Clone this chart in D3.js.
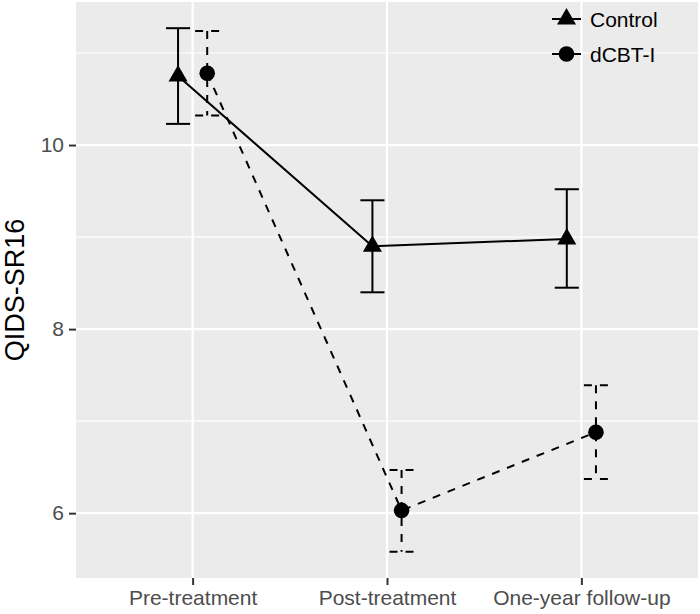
<!DOCTYPE html>
<html><head><meta charset="utf-8">
<script src="https://cdn.jsdelivr.net/npm/d3@7"></script>
<style>body{margin:0;background:#fff}svg{display:block;font-family:"Liberation Sans",Arial,sans-serif}</style>
</head><body>
<svg id="chart" width="700" height="614"></svg>
<script>
const categories = ["Pre-treatment", "Post-treatment", "One-year follow-up"];
const groups = ["Control", "dCBT-I"];
const controlMean = [10.75, 8.90, 8.98];
const controlLow  = [10.23, 8.40, 8.45];
const controlHigh = [11.27, 9.40, 9.52];
const dcbtMean = [10.78, 6.03, 6.88];
const dcbtLow  = [10.32, 5.58, 6.37];
const dcbtHigh = [11.24, 6.47, 7.39];
const yTicks = [6, 8, 10];
const yMinor = [7, 9, 11];
const yTitle = "QIDS-SR16";

const svg = d3.select("#chart");
const P = {left: 76, right: 698, top: 2, bottom: 578};

const allVals = controlLow.concat(controlHigh, dcbtLow, dcbtHigh);
const lo = d3.min(allVals), hi = d3.max(allVals), pad = (hi - lo) * 0.05;
const y = d3.scaleLinear().domain([lo - pad, hi + pad]).range([P.bottom, P.top]);
const x = d3.scalePoint().domain(categories).range([P.left, P.right]).padding(0.6);
const step = x.step();
const dodge = d3.scalePoint().domain(groups).range([-0.075 * step, 0.075 * step]);
const capHalf = 0.062 * step;

// panel
svg.append("rect").attr("x", P.left).attr("y", P.top).attr("width", P.right - P.left)
  .attr("height", P.bottom - P.top).attr("fill", "#EBEBEB");
const g = svg.append("g");
yMinor.forEach(v => g.append("line").attr("x1", P.left).attr("x2", P.right)
  .attr("y1", y(v)).attr("y2", y(v)).attr("stroke", "#fff").attr("stroke-width", 1.1));
yTicks.forEach(v => g.append("line").attr("x1", P.left).attr("x2", P.right)
  .attr("y1", y(v)).attr("y2", y(v)).attr("stroke", "#fff").attr("stroke-width", 2.2));
categories.forEach(c => g.append("line").attr("x1", x(c)).attr("x2", x(c))
  .attr("y1", P.top).attr("y2", P.bottom).attr("stroke", "#fff").attr("stroke-width", 2.2));

// axes
const yAxis = d3.axisLeft(y).tickValues(yTicks).tickSize(7).tickPadding(5).tickFormat(d3.format("d"));
const ya = svg.append("g").attr("transform", `translate(${P.left},0)`).call(yAxis);
const xAxis = d3.axisBottom(x).tickSize(7).tickPadding(5);
const xa = svg.append("g").attr("transform", `translate(0,${P.bottom})`).call(xAxis);
[ya, xa].forEach(a => {
  a.select(".domain").remove();
  a.selectAll(".tick line").attr("stroke", "#333").attr("stroke-width", 2);
  a.selectAll(".tick text").attr("fill", "#4D4D4D").style("font-size", "21px")
    .style("font-family", '"Liberation Sans",Arial,sans-serif');
});
svg.append("text").attr("transform", `translate(24,${(P.top + P.bottom) / 2}) rotate(-90)`)
  .attr("text-anchor", "middle").style("font-size", "27px").attr("fill", "#000").text(yTitle);

const series = [
  {name: groups[0], mean: controlMean, low: controlLow, high: controlHigh, dash: null, shape: "tri"},
  {name: groups[1], mean: dcbtMean, low: dcbtLow, high: dcbtHigh, dash: "8,8", shape: "circ"}
];
const tri = d3.symbol(d3.symbolTriangle, 157)();

series.forEach(s => {
  const px = i => x(categories[i]) + dodge(s.name);
  const sg = svg.append("g").attr("stroke", "#000").attr("stroke-width", 2).attr("fill", "none");
  // connecting line
  sg.append("path").attr("d", d3.line().x((d, i) => px(i)).y(d => y(d))(s.mean))
    .attr("stroke-dasharray", s.dash);
  // error bars
  s.mean.forEach((m, i) => {
    const cx = px(i);
    sg.append("line").attr("x1", cx - capHalf).attr("x2", cx + capHalf)
      .attr("y1", y(s.high[i])).attr("y2", y(s.high[i])).attr("stroke-dasharray", s.dash);
    sg.append("line").attr("x1", cx).attr("x2", cx)
      .attr("y1", y(s.high[i])).attr("y2", y(s.low[i])).attr("stroke-dasharray", s.dash);
    sg.append("line").attr("x1", cx - capHalf).attr("x2", cx + capHalf)
      .attr("y1", y(s.low[i])).attr("y2", y(s.low[i])).attr("stroke-dasharray", s.dash);
  });
  // points
  s.mean.forEach((m, i) => {
    if (s.shape === "tri") svg.append("path").attr("d", tri)
      .attr("transform", `translate(${px(i)},${y(m)})`).attr("fill", "#000");
    else svg.append("circle").attr("cx", px(i)).attr("cy", y(m)).attr("r", 7.8).attr("fill", "#000");
  });
});

// legend
const leg = svg.append("g");
series.forEach((s, k) => {
  const ly = 19 + k * 35;
  leg.append("line").attr("x1", 552).attr("x2", 581).attr("y1", ly).attr("y2", ly)
    .attr("stroke", "#000").attr("stroke-width", 2);
  if (s.shape === "tri") leg.append("path").attr("d", tri).attr("transform", `translate(566.5,${ly})`).attr("fill", "#000");
  else leg.append("circle").attr("cx", 566.5).attr("cy", ly).attr("r", 7.8).attr("fill", "#000");
  leg.append("text").attr("x", 590).attr("y", ly).attr("dy", "0.36em").style("font-size", "21px")
    .attr("fill", "#000").text(s.name);
});
</script>
</body></html>
